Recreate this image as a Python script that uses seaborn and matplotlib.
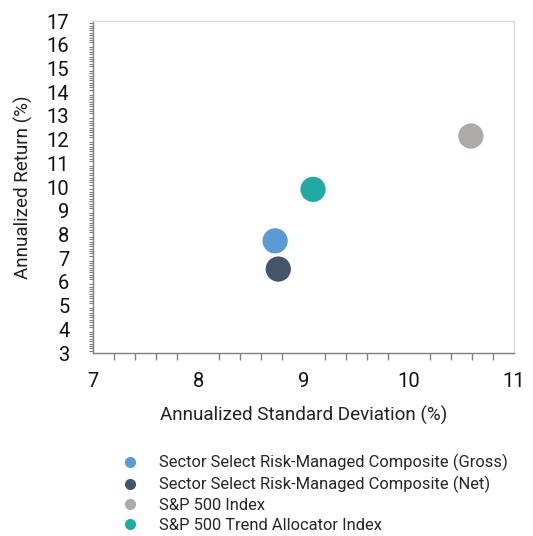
import numpy as np
import pandas as pd
import seaborn as sns
import matplotlib.pyplot as plt
from matplotlib.ticker import MultipleLocator

# Risk / return values
names = ["Sector Select Risk-Managed Composite (Gross)",
         "Sector Select Risk-Managed Composite (Net)",
         "S&P 500 Index",
         "S&P 500 Trend Allocator Index"]
std_dev = [8.73, 8.76, 10.59, 9.09]
ann_return = [7.73, 6.54, 12.15, 9.90]
colors = ["#5B9BD5", "#44546A", "#AEAAAA", "#21A9A6"]

df = pd.DataFrame({"name": names, "sd": std_dev, "ret": ann_return})

sns.set_theme(style="white")
plt.rcParams["font.family"] = ["Roboto", "DejaVu Sans"]

fig = plt.figure(figsize=(5.33, 5.36), dpi=100)
ax = fig.add_axes([0.1745, 0.3414, 0.79, 0.6194])

sns.scatterplot(data=df, x="sd", y="ret", hue="name", palette=colors,
                s=330, edgecolor="none", ax=ax, legend=False)

ax.set_xlim(7, 11)
ax.set_ylim(3, 17)
ax.xaxis.set_major_locator(MultipleLocator(1))
ax.xaxis.set_minor_locator(MultipleLocator(0.2))
ax.yaxis.set_major_locator(MultipleLocator(1))
ax.yaxis.set_minor_locator(MultipleLocator(0.1))

ax.tick_params(axis="both", which="major", direction="out", length=6, width=1,
               color="#7f7f7f", labelsize=14.5, labelcolor="#111111")
ax.tick_params(axis="y", which="minor", direction="out", length=3, width=0.8,
               color="#7f7f7f", left=True)
ax.tick_params(axis="x", which="minor", direction="out", length=5, width=1,
               color="#7f7f7f", bottom=True)
ax.tick_params(axis="x", which="major", pad=8)
ax.tick_params(axis="y", which="major", pad=11)

for side in ["left", "bottom"]:
    ax.spines[side].set_color("#7f7f7f")
    ax.spines[side].set_linewidth(1)
for side in ["top", "right"]:
    ax.spines[side].set_color("#d9d9d9")
    ax.spines[side].set_linewidth(1)

ax.set_xlabel("Annualized Standard Deviation (%)", fontsize=13.6, color="#222222", labelpad=10)
ax.set_ylabel("Annualized Return (%)", fontsize=13.6, color="#222222", labelpad=10)

handles = [plt.Line2D([], [], marker="o", linestyle="none", markersize=8,
                      markerfacecolor=c, markeredgecolor="none") for c in colors]
fig.legend(handles, names, loc="upper left", bbox_to_anchor=(0.212, 0.168),
           frameon=False, fontsize=11.9, handletextpad=1.3, labelspacing=0.28,
           borderpad=0, handlelength=1)

fig.savefig("out.png", dpi=100)
